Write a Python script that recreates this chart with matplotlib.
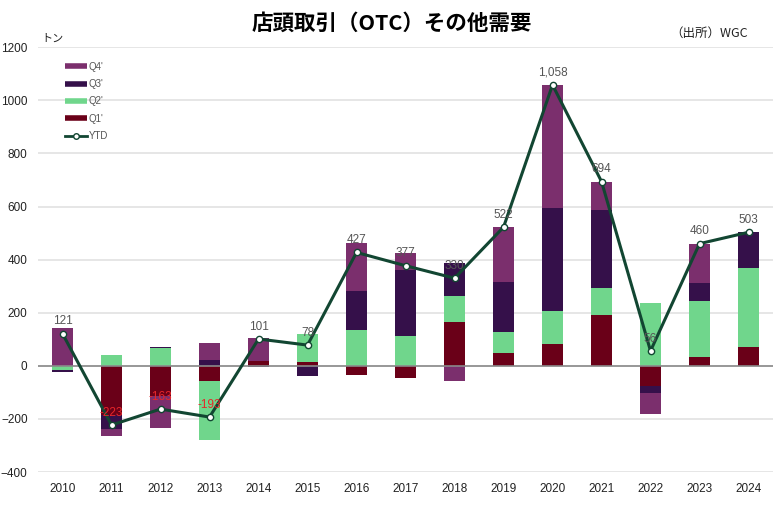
import numpy as np
import matplotlib
matplotlib.use('Agg')
import matplotlib.pyplot as plt
from matplotlib.lines import Line2D

plt.rcParams['font.family'] = ['Liberation Sans', 'Noto Sans CJK JP', 'DejaVu Sans']

years = ['2010', '2011', '2012', '2013', '2014', '2015', '2016', '2017',
         '2018', '2019', '2020', '2021', '2022', '2023', '2024']
q1 = [0, -187, -114, -57, 17, 15, -34, -47, 165, 50, 84, 193, -77, 32, 71]
q2 = [-16, 40, 66, -223, 1, 103, 135, 111, 97, 76, 121, 101, 238, 211, 297]
q3 = [-6, -50, 5, 23, -5, -37, 148, 248, 126, 191, 389, 291, -26, 70, 135]
q4 = [143, -26, -120, 64, 88, -3, 178, 65, -58, 205, 464, 109, -79, 147, 0]
ytd = [121, -223, -163, -193, 101, 78, 427, 377, 330, 522, 1058, 694, 56, 460, 503]

c_q1 = '#6a0018'
c_q2 = '#70d68c'
c_q3 = '#35104a'
c_q4 = '#7b2f6d'
c_line = '#124632'

fig = plt.figure(figsize=(7.84, 5.13), dpi=100)
ax = fig.add_axes([0.0485, 0.0799, 0.9375, 0.8281])

x = np.arange(len(years))
pos = np.zeros(len(years))
neg = np.zeros(len(years))
for vals, col in [(q1, c_q1), (q2, c_q2), (q3, c_q3), (q4, c_q4)]:
    v = np.array(vals, dtype=float)
    base = np.where(v >= 0, pos, neg)
    ax.bar(x, v, 0.41, bottom=base, color=col, zorder=2)
    pos = pos + np.where(v >= 0, v, 0)
    neg = neg + np.where(v < 0, v, 0)

ax.plot(x, ytd, color=c_line, lw=2.2, marker='o', ms=4.5,
        mfc='white', mec=c_line, mew=1, zorder=4)

for xi, v in zip(x, ytd):
    col = '#e8262a' if v < 0 else '#555555'
    ax.annotate(f'{v:,}', (xi, v), xytext=(0, 4.5), textcoords='offset points',
                ha='center', va='bottom', fontsize=8.5, color=col, zorder=5)

ax.set_xlim(-0.5, 14.5)
ax.set_ylim(-400, 1200)
ax.set_yticks(range(-400, 1201, 200))
ax.set_xticks(x)
ax.set_xticklabels(years)
ax.grid(axis='y', color='#e4e4e4', lw=1.3, zorder=0)
ax.axhline(0, color='#8a8a8a', lw=1.2, zorder=3)
for s in ax.spines.values():
    s.set_visible(False)
ax.tick_params(length=0, labelsize=8.5, labelcolor='#222222')
ax.tick_params(axis='x', pad=8)
ax.tick_params(axis='y', pad=7.5)

handles = [Line2D([0], [0], color=c_q4, lw=4, solid_capstyle='butt'),
           Line2D([0], [0], color=c_q3, lw=4, solid_capstyle='butt'),
           Line2D([0], [0], color=c_q2, lw=4, solid_capstyle='butt'),
           Line2D([0], [0], color=c_q1, lw=4, solid_capstyle='butt'),
           Line2D([0], [0], color=c_line, lw=2, marker='o', ms=4,
                  mfc='white', mec=c_line)]
labels = ["Q4'", "Q3'", "Q2'", "Q1'", 'YTD']
leg = ax.legend(handles, labels, loc='upper left', bbox_to_anchor=(0.025, 0.986),
                frameon=False, fontsize=7, handlelength=2.2, handletextpad=0.2,
                labelspacing=0.75, labelcolor='#555555')

fig.text(0.5, 0.955, '店頭取引（OTC）その他需要', ha='center', va='center',
         fontsize=15.5, fontweight='bold', family=['Noto Sans CJK JP'])
fig.text(0.905, 0.935, '（出所）WGC', ha='center', va='center', fontsize=9,
         color='#222222', family=['Noto Sans CJK JP'])
fig.text(0.053, 0.925, 'トン', ha='left', va='center', fontsize=8,
         color='#222222', family=['Noto Sans CJK JP'])

plt.savefig('out.png')
